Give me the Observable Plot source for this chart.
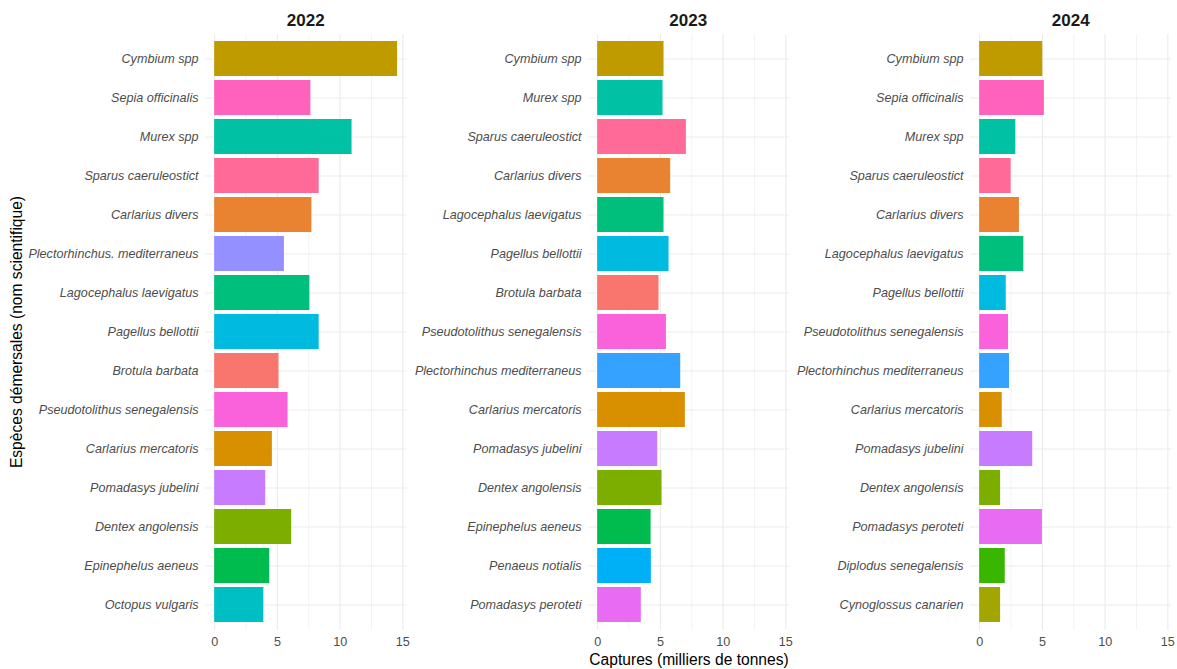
<!DOCTYPE html>
<html><head><meta charset="utf-8">
<script src="https://cdn.jsdelivr.net/npm/d3@7"></script>
<script src="https://cdn.jsdelivr.net/npm/@observablehq/plot@0.6"></script>
<style>
body{margin:0;background:#fff;font-family:"Liberation Sans",Arial,sans-serif;}
#chart{position:relative;width:1177px;height:669px;overflow:hidden;}
.facet{position:absolute;top:30px;}
.ftitle{position:absolute;top:21px;transform:translate(-50%,-50%);font-weight:bold;font-size:17px;color:#1a1a1a;white-space:nowrap;}
.ytitle{position:absolute;left:17px;top:332px;transform:translate(-50%,-50%) rotate(-90deg);font-size:15.6px;color:#000;white-space:nowrap;}
.xtitle{position:absolute;left:689px;top:660px;transform:translate(-50%,-50%);font-size:15.6px;color:#000;white-space:nowrap;}
g[aria-label="y-axis tick label"] text{font-style:italic;}
</style>
</head><body>
<div id="chart"></div>
<script>
const years = ["2022", "2023", "2024"];

const species2022 = ["Cymbium spp","Sepia officinalis","Murex spp","Sparus caeruleostict","Carlarius divers","Plectorhinchus. mediterraneus","Lagocephalus laevigatus","Pagellus bellottii","Brotula barbata","Pseudotolithus senegalensis","Carlarius mercatoris","Pomadasys jubelini","Dentex angolensis","Epinephelus aeneus","Octopus vulgaris"];
const values2022 = [14.58, 7.67, 10.95, 8.33, 7.75, 5.56, 7.59, 8.33, 5.13, 5.85, 4.60, 4.07, 6.14, 4.39, 3.92];

const species2023 = ["Cymbium spp","Murex spp","Sparus caeruleostict","Carlarius divers","Lagocephalus laevigatus","Pagellus bellottii","Brotula barbata","Pseudotolithus senegalensis","Plectorhinchus mediterraneus","Carlarius mercatoris","Pomadasys jubelini","Dentex angolensis","Epinephelus aeneus","Penaeus notialis","Pomadasys peroteti"];
const values2023 = [5.29, 5.21, 7.07, 5.82, 5.29, 5.69, 4.89, 5.48, 6.62, 6.99, 4.79, 5.13, 4.26, 4.28, 3.48];

const species2024 = ["Cymbium spp","Sepia officinalis","Murex spp","Sparus caeruleostict","Carlarius divers","Lagocephalus laevigatus","Pagellus bellottii","Pseudotolithus senegalensis","Plectorhinchus mediterraneus","Carlarius mercatoris","Pomadasys jubelini","Dentex angolensis","Pomadasys peroteti","Diplodus senegalensis","Cynoglossus canarien"];
const values2024 = [5.03, 5.16, 2.88, 2.51, 3.17, 3.52, 2.12, 2.30, 2.38, 1.80, 4.23, 1.67, 5.00, 2.04, 1.67];

const allSpecies = ["Brotula barbata","Carlarius divers","Carlarius mercatoris","Cymbium spp","Cynoglossus canarien","Dentex angolensis","Diplodus senegalensis","Epinephelus aeneus","Lagocephalus laevigatus","Murex spp","Octopus vulgaris","Pagellus bellottii","Penaeus notialis","Plectorhinchus mediterraneus","Plectorhinchus. mediterraneus","Pomadasys jubelini","Pomadasys peroteti","Pseudotolithus senegalensis","Sepia officinalis","Sparus caeruleostict"];
const palette = ["#F8766D","#EA8331","#D89000","#C09B00","#A3A500","#7CAE00","#39B600","#00BB4E","#00BF7D","#00C1A3","#00BFC4","#00BAE0","#00B0F6","#35A2FF","#9590FF","#C77CFF","#E76BF3","#FA62DB","#FF62BC","#FF6A98"];

const xTicks = [0, 5, 10, 15];
const xMinor = [2.5, 7.5, 12.5];
const xTitle = "Captures (milliers de tonnes)";
const yTitle = "Espèces démersales (nom scientifique)";

const speciesByYear = [species2022, species2023, species2024];
const valuesByYear = [values2022, values2023, values2024];

const panelLefts = [205, 587.5, 970];
const panelWidth = 201.5;
const mLeft = 180, mRight = 2;

function panel(species, values) {
  const data = species.map((s, i) => ({species: s, value: values[i]}));
  return Plot.plot({
    width: mLeft + panelWidth + mRight,
    height: 624,
    marginLeft: mLeft, marginRight: mRight, marginTop: 4, marginBottom: 24,
    style: {fontFamily: "'Liberation Sans', Arial, sans-serif", fontSize: "12.6px", color: "#4D4D4D", background: "transparent", overflow: "visible"},
    x: {domain: [-0.73, 15.33]},
    y: {domain: species, paddingInner: 0.1, paddingOuter: 0.15},
    color: {domain: allSpecies, range: palette},
    marks: [
      Plot.gridX({ticks: xMinor, stroke: "#EBEBEB", strokeOpacity: 1, strokeWidth: 0.6}),
      Plot.gridX({ticks: xTicks, stroke: "#EBEBEB", strokeOpacity: 1, strokeWidth: 1.1}),
      Plot.gridY({stroke: "#EBEBEB", strokeOpacity: 1, strokeWidth: 1.1}),
      Plot.barX(data, {x: "value", y: "species", fill: "species"}),
      Plot.axisX({ticks: xTicks, tickSize: 0, tickPadding: 7, label: null, fontSize: 12.6}),
      Plot.axisY({tickSize: 0, tickPadding: 7, label: null, fontSize: 12.6, fontStyle: "italic"})
    ]
  });
}

const chart = document.getElementById("chart");
years.forEach((yr, k) => {
  const wrap = document.createElement("div");
  wrap.className = "facet";
  wrap.style.left = (panelLefts[k] - mLeft) + "px";
  wrap.appendChild(panel(speciesByYear[k], valuesByYear[k]));
  chart.appendChild(wrap);
  const t = document.createElement("div");
  t.className = "ftitle";
  t.style.left = (panelLefts[k] + panelWidth / 2) + "px";
  t.textContent = yr;
  chart.appendChild(t);
});
const yt = document.createElement("div");
yt.className = "ytitle"; yt.textContent = yTitle; chart.appendChild(yt);
const xt = document.createElement("div");
xt.className = "xtitle"; xt.textContent = xTitle; chart.appendChild(xt);
</script>
</body></html>
